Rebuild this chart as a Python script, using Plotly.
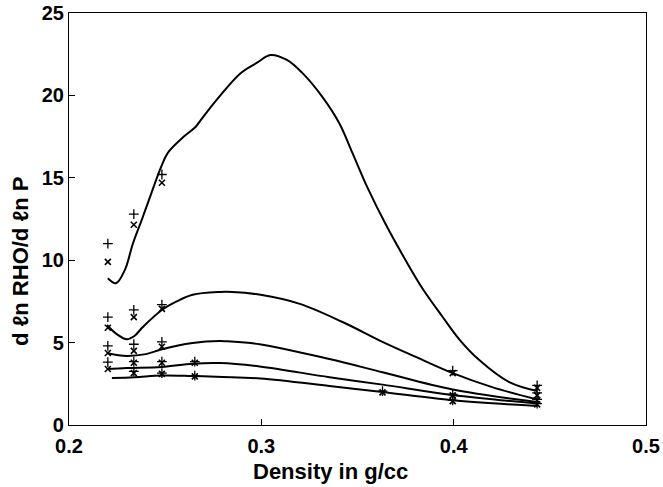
import plotly.graph_objects as go

# ---- curves ----
c1_x = [0.2202, 0.2244, 0.2290, 0.2332, 0.2380, 0.2420, 0.2477, 0.2513, 0.2597, 0.2659,
        0.2685, 0.2773, 0.2892, 0.2980, 0.3047, 0.3133, 0.3214, 0.3318, 0.3406, 0.3474,
        0.3552, 0.3650, 0.3750, 0.3837, 0.3940, 0.4029, 0.4133, 0.4289, 0.4434]
c1_y = [8.9, 8.6, 9.4, 11.0, 12.5, 13.8, 15.6, 16.5, 17.5, 18.1,
        18.5, 19.8, 21.35, 22.0, 22.45, 22.15, 21.35, 19.9, 18.3, 16.5,
        14.4, 12.1, 10.0, 8.3, 6.6, 5.2, 3.94, 2.6, 2.06]

c2_x = [0.2197, 0.2250, 0.2301, 0.2340, 0.2384, 0.2483, 0.2560, 0.2643, 0.2784, 0.2850,
        0.2996, 0.3200, 0.3422, 0.3630, 0.3800, 0.3995, 0.4200, 0.4434]
c2_y = [6.07, 5.5, 5.2, 5.4, 5.95, 6.98, 7.5, 7.9, 8.07, 8.07,
        7.9, 7.35, 6.25, 5.05, 4.15, 3.15, 2.3, 1.55]

c3_x = [0.2197, 0.2250, 0.2301, 0.2400, 0.2483, 0.2643, 0.2784, 0.2820, 0.2991, 0.3354,
        0.3630, 0.3995, 0.4434]
c3_y = [4.37, 4.25, 4.19, 4.3, 4.6, 4.98, 5.1, 5.08, 4.9, 4.0,
        3.2, 2.15, 1.4]

c4_x = [0.2197, 0.2301, 0.2483, 0.2643, 0.2784, 0.2991, 0.3354, 0.3630, 0.3995, 0.4434]
c4_y = [3.4, 3.46, 3.52, 3.72, 3.76, 3.55, 2.9, 2.45, 1.82, 1.3]

c5_x = [0.2223, 0.2342, 0.2483, 0.2643, 0.2800, 0.2996, 0.3354, 0.3630, 0.3995, 0.4434]
c5_y = [2.85, 2.9, 3.0, 2.97, 2.92, 2.82, 2.37, 2.0, 1.5, 1.15]

# ---- measured points ----
plus_x = [0.2202, 0.2202, 0.2202, 0.2202,
          0.2337, 0.2337, 0.2337, 0.2337, 0.2337,
          0.2483, 0.2483, 0.2483, 0.2483, 0.2483,
          0.2654, 0.2654,
          0.3630,
          0.3995, 0.3995, 0.3995,
          0.4434, 0.4434, 0.4434, 0.4434]
plus_y = [11.0, 6.55, 4.8, 3.82,
          12.8, 6.98, 4.9, 3.85, 3.25,
          15.2, 7.3, 5.05, 3.85, 3.15,
          3.85, 3.0,
          2.05,
          3.3, 1.85, 1.5,
          2.4, 1.95, 1.55, 1.3]

cross_x = [0.2202, 0.2202, 0.2202, 0.2202,
           0.2337, 0.2337, 0.2337, 0.2337, 0.2337,
           0.2483, 0.2483, 0.2483, 0.2483, 0.2483,
           0.2654, 0.2654,
           0.3630,
           0.3995, 0.3995, 0.3995,
           0.4434, 0.4434, 0.4434, 0.4434]
cross_y = [9.9, 5.9, 4.37, 3.4,
           12.15, 6.55, 4.5, 3.78, 3.15,
           14.7, 7.05, 4.75, 3.78, 3.1,
           3.78, 2.95,
           1.98,
           3.15, 1.8, 1.45,
           2.25, 1.8, 1.5, 1.25]

x_ticks = [0.2, 0.3, 0.4, 0.5]
x_ticktext = ["0.2", "0.3", "0.4", "0.5"]
y_ticks = [0, 5, 10, 15, 20, 25]
x_title = "Density in g/cc"
y_title = "d \u2113n RHO/d \u2113n P"

fig = go.Figure()
for cx, cy in [(c1_x, c1_y), (c2_x, c2_y), (c3_x, c3_y), (c4_x, c4_y), (c5_x, c5_y)]:
    fig.add_trace(go.Scatter(x=cx, y=cy, mode="lines",
                             line=dict(color="black", width=2, shape="spline", smoothing=1.0),
                             showlegend=False, hoverinfo="skip"))

fig.add_trace(go.Scatter(x=plus_x, y=plus_y, mode="markers",
                         marker=dict(symbol="cross-thin", size=7, color="black",
                                     line=dict(color="black", width=1.3)),
                         showlegend=False))
fig.add_trace(go.Scatter(x=cross_x, y=cross_y, mode="markers",
                         marker=dict(symbol="x-thin", size=6, color="black",
                                     line=dict(color="black", width=1.6)),
                         showlegend=False))

font_family = "Liberation Sans, Arial, Helvetica, sans-serif"
L, R, T, B = 69, 17, 13, 62
pw = 663 - L - R
ph = 487 - T - B

fig.update_layout(
    width=663, height=487,
    margin=dict(l=L, r=R, t=T, b=B, autoexpand=False),
    paper_bgcolor="white", plot_bgcolor="white",
    font=dict(family=font_family, color="black", size=20),
    xaxis=dict(range=[0.2, 0.5], tickvals=x_ticks, ticktext=x_ticktext,
               ticks="inside", ticklen=6, tickwidth=1, tickcolor="black",
               showline=True, linecolor="black", linewidth=1.2, mirror=True,
               showgrid=False, zeroline=False, automargin=False,
               ticklabelstandoff=3,
               tickfont=dict(size=20, weight="bold")),
    yaxis=dict(range=[0, 25], tickvals=y_ticks,
               ticks="inside", ticklen=6, tickwidth=1, tickcolor="black",
               showline=True, linecolor="black", linewidth=1.2, mirror=True,
               showgrid=False, zeroline=False, automargin=False,
               tickfont=dict(size=20, weight="bold")),
    annotations=[
        dict(text=x_title, xref="paper", yref="paper",
             x=(330 - L) / pw, y=-(471 - (T + ph)) / ph,
             xanchor="center", yanchor="middle", showarrow=False,
             font=dict(size=22, weight="bold")),
        dict(text=y_title, xref="paper", yref="paper", textangle=-90,
             x=-(L - 20) / pw, y=((T + ph) - 262) / ph,
             xanchor="center", yanchor="middle", showarrow=False,
             font=dict(size=22, weight="bold")),
    ],
)

fig.write_html("out.html", config={"displayModeBar": False},
               post_script="document.body.style.margin='0';")
